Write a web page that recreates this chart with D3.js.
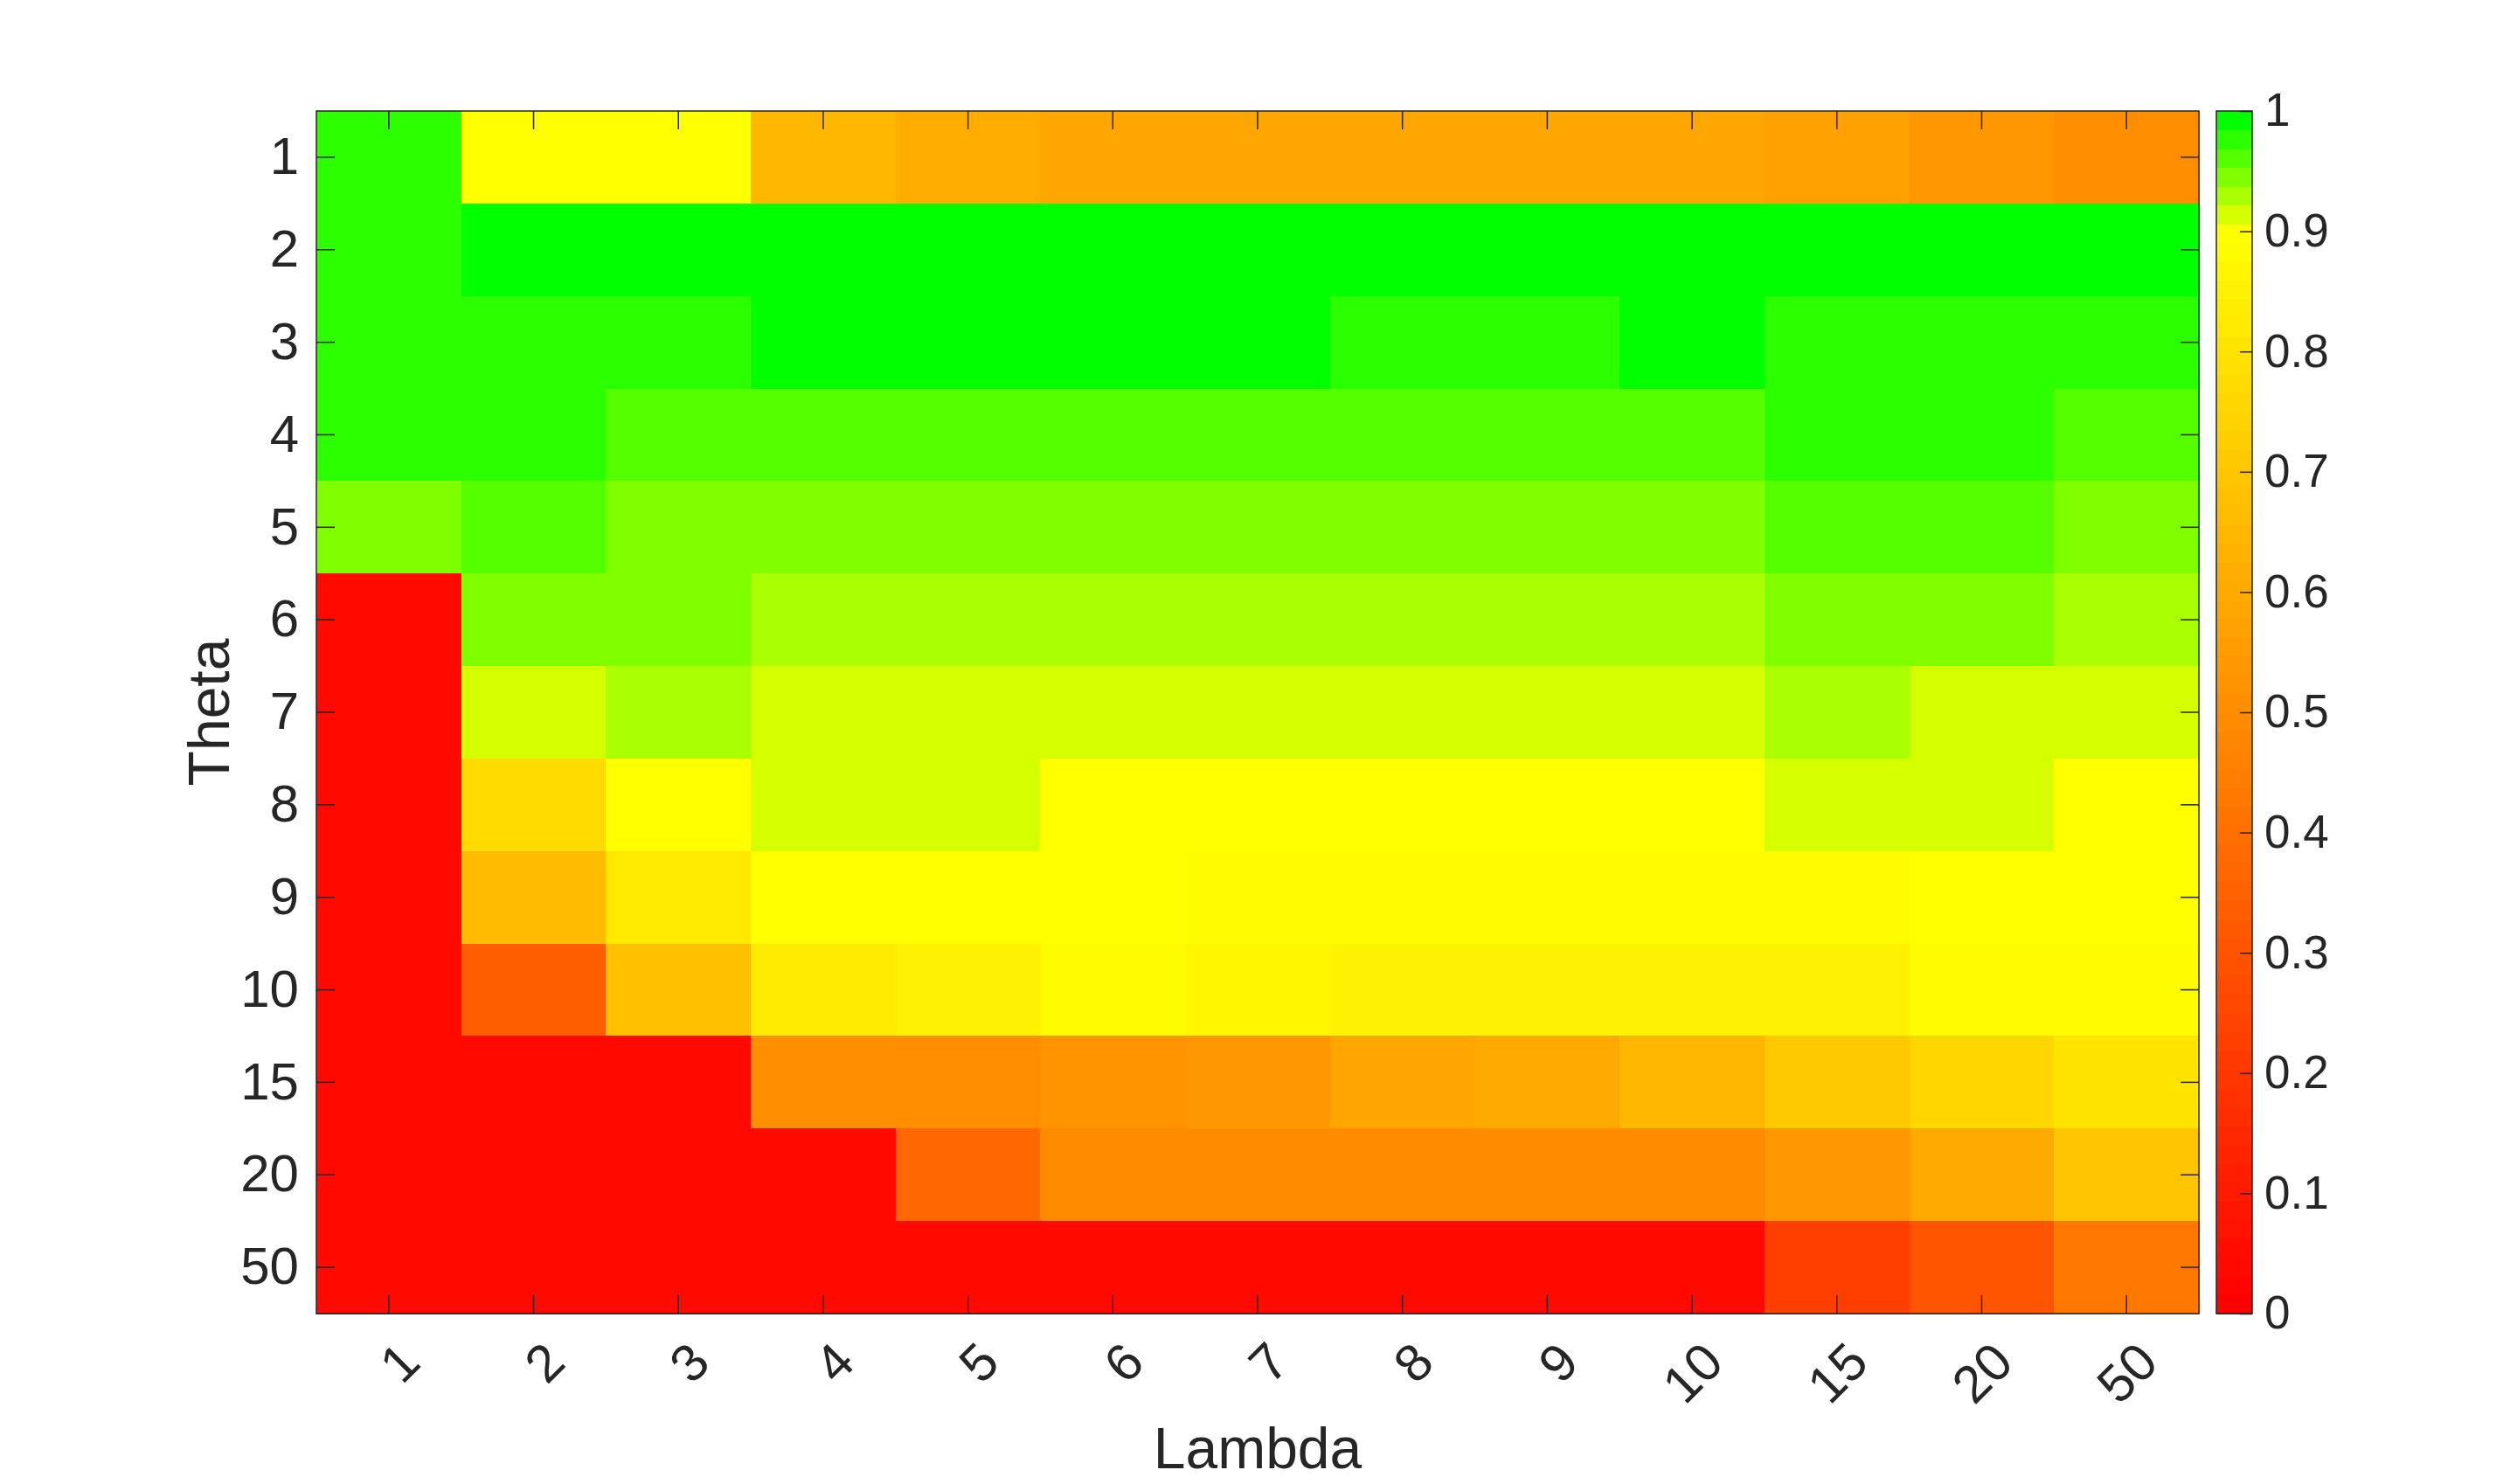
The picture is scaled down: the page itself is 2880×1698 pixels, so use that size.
<!DOCTYPE html>
<html>
<head>
<meta charset="utf-8">
<script src="https://cdn.jsdelivr.net/npm/d3@7"></script>
<style>
body{margin:0;background:#fff;}
svg text{font-family:"Liberation Sans",Arial,Helvetica,sans-serif;fill:#262626;}
</style>
</head>
<body>
<div id="chart"></div>
<script>
const WIDTH=2880;
const HEIGHT=1698;
const PLOT={left:362,top:127,right:2516,bottom:1503};
const CBAR={left:2536,right:2577};
const INK="#262626";
const TICK_LEN=21;

// categories
const lambdas=["1","2","3","4","5","6","7","8","9","10","15","20","50"];
const thetas=["1","2","3","4","5","6","7","8","9","10","15","20","50"];

// one row per theta, one value per lambda
const theta1 =[0.975,0.898,0.898,0.648,0.617,0.590,0.590,0.590,0.590,0.586,0.570,0.539,0.508];
const theta2 =[0.975,0.990,0.990,0.990,0.990,0.990,0.990,0.990,0.990,0.990,0.990,0.990,0.990];
const theta3 =[0.975,0.975,0.975,0.990,0.990,0.990,0.990,0.975,0.975,0.990,0.975,0.975,0.975];
const theta4 =[0.975,0.975,0.960,0.960,0.960,0.960,0.960,0.960,0.960,0.960,0.975,0.975,0.960];
const theta5 =[0.945,0.960,0.945,0.945,0.945,0.945,0.945,0.945,0.945,0.945,0.960,0.960,0.945];
const theta6 =[0.040,0.945,0.945,0.930,0.930,0.930,0.930,0.930,0.930,0.930,0.945,0.945,0.930];
const theta7 =[0.040,0.915,0.930,0.915,0.915,0.915,0.915,0.915,0.915,0.915,0.930,0.915,0.915];
const theta8 =[0.040,0.773,0.898,0.915,0.915,0.898,0.898,0.898,0.898,0.898,0.915,0.915,0.898];
const theta9 =[0.040,0.664,0.820,0.898,0.898,0.898,0.883,0.883,0.883,0.883,0.883,0.898,0.898];
const theta10=[0.040,0.336,0.680,0.820,0.852,0.883,0.867,0.852,0.852,0.852,0.852,0.883,0.883];
const theta15=[0.040,0.040,0.040,0.508,0.508,0.530,0.545,0.586,0.602,0.648,0.711,0.758,0.805];
const theta20=[0.040,0.040,0.040,0.040,0.367,0.490,0.490,0.490,0.490,0.490,0.539,0.600,0.695];
const theta50=[0.040,0.040,0.040,0.040,0.040,0.040,0.040,0.040,0.040,0.040,0.227,0.305,0.430];
const rows=[theta1,theta2,theta3,theta4,theta5,theta6,theta7,theta8,theta9,theta10,theta15,theta20,theta50];

// colorbar ticks
const cbarTicks=[0,0.1,0.2,0.3,0.4,0.5,0.6,0.7,0.8,0.9,1];

//colormap: 58 steps red->yellow, then 6 steps to green
const cmap=d3.range(64).map(i=>i<=57
    ? d3.rgb(255,Math.round(255*i/57),0).formatHex()
    : d3.rgb(Math.round(255*(63-i)/6),255,0).formatHex());
const color=d3.scaleQuantize().domain([0,1]).range(cmap);

const cells=[];
rows.forEach((r,ti)=>r.forEach((v,li)=>cells.push({theta:thetas[ti],lambda:lambdas[li],value:v})));

const svg=d3
    .select("#chart")
    .append("svg")
    .attr("width",WIDTH)
    .attr("height",HEIGHT);

const x=d3.scaleBand().domain(lambdas).range([PLOT.left,PLOT.right]).padding(0);
const y=d3.scaleBand().domain(thetas).range([PLOT.top,PLOT.bottom]).padding(0);

//celdas
svg
    .append("g")
    .attr("shape-rendering","crispEdges")
    .selectAll("rect")
    .data(cells)
    .join("rect")
    .attr("x",d=>x(d.lambda))
    .attr("y",d=>y(d.theta))
    .attr("width",x.bandwidth()+0.6)
    .attr("height",y.bandwidth()+0.6)
    .attr("fill",d=>color(d.value));

function styleAxis(sel,size){
    sel.attr("color",INK).attr("font-size",size);
    sel.select(".domain").remove();
    sel.selectAll(".tick line").attr("stroke-width",1.5);
}

//ejes
const yAxis=svg.append("g")
    .attr("transform",`translate(${PLOT.left},0)`)
    .call(d3.axisLeft(y).tickSize(-TICK_LEN).tickPadding(20));
styleAxis(yAxis,60);

svg.append("g")
    .attr("transform",`translate(${PLOT.right},0)`)
    .call(d3.axisRight(y).tickSize(-TICK_LEN).tickFormat(""))
    .call(s=>styleAxis(s,60));

svg.append("g")
    .attr("transform",`translate(0,${PLOT.top})`)
    .call(d3.axisTop(x).tickSize(-TICK_LEN).tickFormat(""))
    .call(s=>styleAxis(s,60));

const xAxis=svg.append("g")
    .attr("transform",`translate(0,${PLOT.bottom})`)
    .call(d3.axisBottom(x).tickSize(-TICK_LEN));
styleAxis(xAxis,60);
xAxis.selectAll(".tick text")
    .attr("x",0)
    .attr("y",0)
    .attr("dy","0.35em")
    .attr("text-anchor","end")
    .attr("transform","translate(24,44) rotate(-45)");

svg.append("rect")
    .attr("x",PLOT.left)
    .attr("y",PLOT.top)
    .attr("width",PLOT.right-PLOT.left)
    .attr("height",PLOT.bottom-PLOT.top)
    .attr("fill","none")
    .attr("stroke",INK)
    .attr("stroke-width",1.5);

svg.append("text")
    .attr("x",(PLOT.left+PLOT.right)/2)
    .attr("y",1680)
    .attr("text-anchor","middle")
    .attr("font-size",66)
    .text("Lambda");

svg.append("text")
    .attr("transform",`translate(262,${(PLOT.top+PLOT.bottom)/2}) rotate(-90)`)
    .attr("text-anchor","middle")
    .attr("font-size",66)
    .text("Theta");

//barra de color
const c=d3.scaleLinear().domain([0,1]).range([PLOT.bottom,PLOT.top]);
svg.append("g")
    .attr("shape-rendering","crispEdges")
    .selectAll("rect")
    .data(cmap)
    .join("rect")
    .attr("x",CBAR.left)
    .attr("width",CBAR.right-CBAR.left)
    .attr("y",(d,i)=>c((i+1)/cmap.length))
    .attr("height",(d,i)=>c(i/cmap.length)-c((i+1)/cmap.length)+0.6)
    .attr("fill",d=>d);

const cAxis=svg.append("g")
    .attr("transform",`translate(${CBAR.right},0)`)
    .call(d3.axisRight(c).tickValues(cbarTicks).tickSize(-14).tickPadding(14).tickFormat(d3.format("~g")));
styleAxis(cAxis,53);

svg.append("rect")
    .attr("x",CBAR.left)
    .attr("y",PLOT.top)
    .attr("width",CBAR.right-CBAR.left)
    .attr("height",PLOT.bottom-PLOT.top)
    .attr("fill","none")
    .attr("stroke",INK)
    .attr("stroke-width",1.5);
</script>
</body>
</html>
